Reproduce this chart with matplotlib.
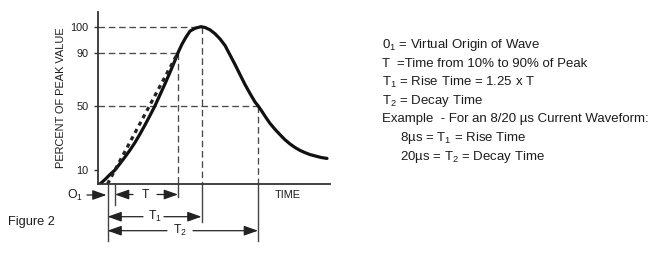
import numpy as np
import matplotlib
matplotlib.use("Agg")
import matplotlib.pyplot as plt

# waveform: time (arbitrary units), percent of peak
rise_t = [0.2, 0.7, 1.2, 1.7, 2.2, 2.7, 3.2, 3.7, 4.2, 4.7, 5.2, 5.7, 6.2, 6.7,
          7.2, 7.7, 8.0, 8.4, 8.8, 9.2, 9.7, 10.3]
rise_pct = [0, 3.2, 6.8, 10, 14.0, 18.1, 22.4, 27.1, 32.4, 38.0, 43.9, 50, 58.2, 66.5,
            75.2, 84.2, 90, 93.3, 96.0, 98.3, 99.4, 100]
decay_t = [10.7, 11.2, 11.7, 12.2, 12.7, 13.2, 13.7, 14.2, 14.7, 15.2, 15.7, 16.0,
           16.4, 16.8, 17.2, 17.7, 18.2, 18.7, 19.2, 19.7, 20.2, 20.7, 21.2, 21.8, 22.3, 22.9]
decay_pct = [99.7, 98.8, 97.3, 95.3, 92.8, 88.3, 81.1, 73.5, 66.0, 59.2, 52.8, 50,
             46.4, 42.6, 39.0, 35.3, 32.0, 28.8, 26.2, 24.0, 22.2, 20.8, 19.6, 18.6, 17.8, 17.2]

# marked instants
t_origin = 0.95
t_10 = 1.7
t_90 = 8.0
t_peak = 10.35
t_decay50 = 16.0

yticks = [10, 50, 90, 100]

# the y axis of the drawing is not linear: percent -> height (px above the time axis)
pct_knots = [0, 10, 50, 90, 100, 110]
pos_knots = [0, 14, 78.3, 131.3, 157.3, 183.3]

legend_lines = [
    (r"0$_\mathregular{1}$ = Virtual Origin of Wave", 0),
    (r"T  =Time from 10% to 90% of Peak", 0),
    (r"T$_\mathregular{1}$ = Rise Time = 1.25 x T", 0),
    (r"T$_\mathregular{2}$ = Decay Time", 0),
    (r"Example  - For an 8/20 µs Current Waveform:", 0),
    (r"8µs = T$_\mathregular{1}$ = Rise Time", 1),
    (r"20µs = T$_\mathregular{2}$ = Decay Time", 1),
]

plt.rcParams["font.family"] = ["Liberation Sans", "DejaVu Sans"]
plt.rcParams["mathtext.fontset"] = "custom"
plt.rcParams["mathtext.rm"] = "Liberation Sans"
ink = "#1c1c1c"

fig = plt.figure(figsize=(6.57, 2.56), dpi=100)
ax = fig.add_axes([98 / 657, 1 - 184 / 256, 232 / 657, 172 / 256])

fwd = lambda p: np.interp(p, pct_knots, pos_knots)
inv = lambda h: np.interp(h, pos_knots, pct_knots)
ax.set_yscale("function", functions=(fwd, inv))
ax.set_xlim(0, 23.2)
ax.set_ylim(0, inv(172))

for s in ["top", "right"]:
    ax.spines[s].set_visible(False)
for s in ["left", "bottom"]:
    ax.spines[s].set_linewidth(1.3)
    ax.spines[s].set_color("#333333")

ax.set_xticks([])
ax.set_yticks(yticks)
ax.set_yticklabels([str(v) for v in yticks], fontsize=7.8, color=ink)
ax.tick_params(axis="y", length=3, width=1, color="#333333", pad=4)
ax.yaxis.set_minor_locator(plt.NullLocator())
ax.set_ylabel("PERCENT OF PEAK VALUE", fontsize=7.9, color=ink, labelpad=3)

# guide lines
dash = dict(color="#4a4a4a", lw=0.95, dashes=(5, 2.8))
ax.plot([0, t_peak], [100, 100], **dash)
ax.plot([0, t_90], [90, 90], **dash)
ax.plot([0, t_decay50], [50, 50], **dash)
ax.plot([t_90, t_90], [90, 0], **dash)
ax.plot([t_peak, t_peak], [100, 0], **dash)
ax.plot([t_decay50, t_decay50], [50, 0], **dash)

# waveform and the straight 10%-90% line back to the virtual origin
ax.plot(rise_t + decay_t, rise_pct + decay_pct, color="#111111", lw=2.3,
        solid_capstyle="round", solid_joinstyle="round")
ax.plot([t_origin, t_90], [0, 90], color="#222222", lw=2.3, dashes=(1.3, 1.3))

# below the time axis: blended coords, y in px below the axis
tr = ax.get_xaxis_transform()
below = lambda d: -d / 172.0

for t, d0, d1 in [(t_origin, 0, 57), (t_10, 1, 21), (t_90, 0, 13),
                  (t_peak, 0, 38), (t_decay50, 0, 57)]:
    ax.plot([t, t], [below(d0), below(d1)], transform=tr, color="#444444",
            lw=1.0, clip_on=False)

head = dict(arrowstyle="-|>,head_length=0.85,head_width=0.3", color="#222222",
            lw=0.9, shrinkA=0, shrinkB=0)


def span(t0, t1, d, label, x_label, gap0, gap1):
    y = below(d)
    ax.annotate("", xy=(t0, y), xytext=(gap0, y), xycoords=tr, textcoords=tr,
                arrowprops=head, annotation_clip=False)
    ax.annotate("", xy=(t1, y), xytext=(gap1, y), xycoords=tr, textcoords=tr,
                arrowprops=head, annotation_clip=False)
    ax.text(x_label, y, label, transform=tr, ha="center", va="center",
            fontsize=8.8, color=ink, clip_on=False)


span(t_10, t_90, 10.5, "T", 4.75, 3.5, 5.9)
span(t_origin, t_peak, 32.7, r"T$_\mathregular{1}$", 5.7, 4.5, 6.6)
span(t_origin, t_decay50, 46.7, r"T$_\mathregular{2}$", 8.2, 6.9, 9.5)

ax.annotate("", xy=(t_origin - 0.1, below(11)), xytext=(-1.1, below(11)),
            xycoords=tr, textcoords=tr, arrowprops=head, annotation_clip=False)
ax.text(-2.3, below(11), r"O$_\mathregular{1}$", transform=tr, ha="center", va="center",
        fontsize=8.8, color=ink, clip_on=False)
ax.text(19.0, below(11), "TIME", transform=tr, ha="center", va="center",
        fontsize=7.8, color=ink, clip_on=False)

fig.text(8 / 657, 1 - 222 / 256, "Figure 2", ha="left", va="center", fontsize=9.2, color=ink)

for i, (line, indent) in enumerate(legend_lines):
    x = 382 if indent == 0 else 400
    y = 45 + i * 18.6
    fig.text(x / 657, 1 - y / 256, line, ha="left", va="center", fontsize=9.5, color=ink)

fig.savefig("out.png", dpi=100)
